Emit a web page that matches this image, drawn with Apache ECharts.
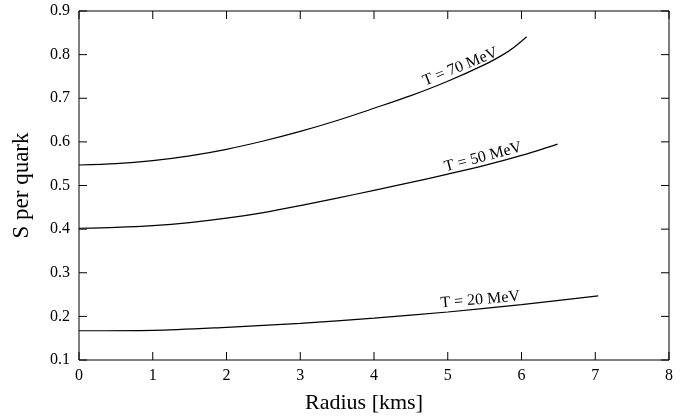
<!DOCTYPE html>
<html>
<head>
<meta charset="utf-8">
<script src="https://cdn.jsdelivr.net/npm/echarts@6/dist/echarts.min.js"></script>
<style>
  html, body { margin: 0; padding: 0; background: #fff; }
  #main { width: 686px; height: 419px; }
</style>
</head>
<body>
<div id="main"></div>
<script>
 var myChart = echarts.init(document.getElementById('main'));

 // radius [kms] and entropy per quark
 var x70 = [0, 0.5, 1, 1.5, 2, 2.5, 3, 3.5, 4, 4.5, 5, 5.5, 5.75, 5.9, 6.07];
 var s70 = [0.547, 0.550, 0.557, 0.568, 0.583, 0.602, 0.624, 0.649, 0.677, 0.706, 0.739, 0.777, 0.800, 0.817, 0.841];
 var x50 = [0, 0.5, 1, 1.5, 2, 2.5, 3, 3.5, 4, 4.5, 5, 5.5, 6, 6.49];
 var s50 = [0.402, 0.404, 0.408, 0.415, 0.425, 0.438, 0.454, 0.471, 0.489, 0.507, 0.526, 0.546, 0.569, 0.595];
 var x20 = [0, 1, 2, 3, 4, 5, 6, 7.04];
 var s20 = [0.167, 0.168, 0.175, 0.184, 0.196, 0.210, 0.227, 0.247];
 var curveNames = ['T = 70 MeV', 'T = 50 MeV', 'T = 20 MeV'];

 // tick marks (drawn inward on all four sides, like the original frame)
 var xTicks = [0, 1, 2, 3, 4, 5, 6, 7, 8];
 var yTicks = [0.1, 0.2, 0.3, 0.4, 0.5, 0.6, 0.7, 0.8, 0.9];

 // where the curve labels sit (data units) and their slant
 var labelAt = [[5.17, 0.772, 22], [5.48, 0.565, 15], [5.44, 0.238, 5]];

 var font = 'Liberation Serif';
 var X_MIN = 0, X_MAX = 8, Y_MIN = 0.1, Y_MAX = 0.9, TICK = 8;

 function pairs(xs, ys) {
     return xs.map(function (v, i) { return [v, ys[i]]; });
 }

 function curve(idx, xs, ys) {
     var at = labelAt[idx];
     return {
         name: curveNames[idx],
         type: 'line',
         smooth: 0.3,
         symbol: 'none',
         lineStyle: { color: '#000', width: 1.2 },
         data: pairs(xs, ys),
         markPoint: {
             symbol: 'circle',
             symbolSize: 0,
             silent: true,
             label: {
                 show: true,
                 formatter: curveNames[idx],
                 rotate: at[2],
                 fontFamily: font,
                 fontSize: 16,
                 color: '#000',
                 position: 'inside'
             },
             data: [{ coord: [at[0], at[1]] }]
         }
     };
 }

 function seg(a, b) {
     return {
         type: 'line',
         shape: { x1: a[0], y1: a[1], x2: b[0], y2: b[1] },
         style: { stroke: '#000', lineWidth: 1 }
     };
 }

 var tickSeries = [{
     type: 'custom',
     silent: true,
     clip: false,
     data: xTicks.map(function (v) { return [v, Y_MIN]; }),
     encode: { x: 0, y: 1 },
     renderItem: function (params, api) {
         var v = api.value(0);
         var lo = api.coord([v, Y_MIN]);
         var hi = api.coord([v, Y_MAX]);
         return { type: 'group', children: [
             seg(lo, [lo[0], lo[1] - TICK]),
             seg(hi, [hi[0], hi[1] + TICK])
         ] };
     }
 }, {
     type: 'custom',
     silent: true,
     clip: false,
     data: yTicks.map(function (v) { return [X_MIN, v]; }),
     encode: { x: 0, y: 1 },
     renderItem: function (params, api) {
         var v = api.value(1);
         var l = api.coord([X_MIN, v]);
         var r = api.coord([X_MAX, v]);
         return { type: 'group', children: [
             seg(l, [l[0] + TICK, l[1]]),
             seg(r, [r[0] - TICK, r[1]])
         ] };
     }
 }];

 var option = {
     backgroundColor: '#fff',
     animation: false,
     grid: {
         left: 79, right: 17, top: 11, bottom: 57,
         show: true, borderColor: '#000', borderWidth: 1, backgroundColor: 'transparent'
     },
     xAxis: {
         type: 'value',
         min: X_MIN,
         max: X_MAX,
         interval: 1,
         name: 'Radius [kms]',
         nameLocation: 'middle',
         nameGap: 32,
         nameTextStyle: { fontFamily: font, fontSize: 22, color: '#000', padding: [0, 20, 0, 0] },
         axisLine: { show: false },
         axisTick: { show: false },
         axisLabel: { fontFamily: font, fontSize: 16, color: '#000', margin: 8 },
         splitLine: { show: false }
     },
     yAxis: {
         type: 'value',
         min: Y_MIN,
         max: Y_MAX,
         interval: 0.1,
         name: 'S per quark',
         nameLocation: 'middle',
         nameGap: 46,
         nameTextStyle: { fontFamily: font, fontSize: 23, color: '#000' },
         axisLine: { show: false },
         axisTick: { show: false },
         axisLabel: {
             fontFamily: font, fontSize: 16, color: '#000', margin: 9,
             formatter: function (v) { return v.toFixed(1); }
         },
         splitLine: { show: false }
     },
     series: [
         curve(0, x70, s70),
         curve(1, x50, s50),
         curve(2, x20, s20)
     ].concat(tickSeries)
 };

 myChart.setOption(option);
</script>
</body>
</html>
